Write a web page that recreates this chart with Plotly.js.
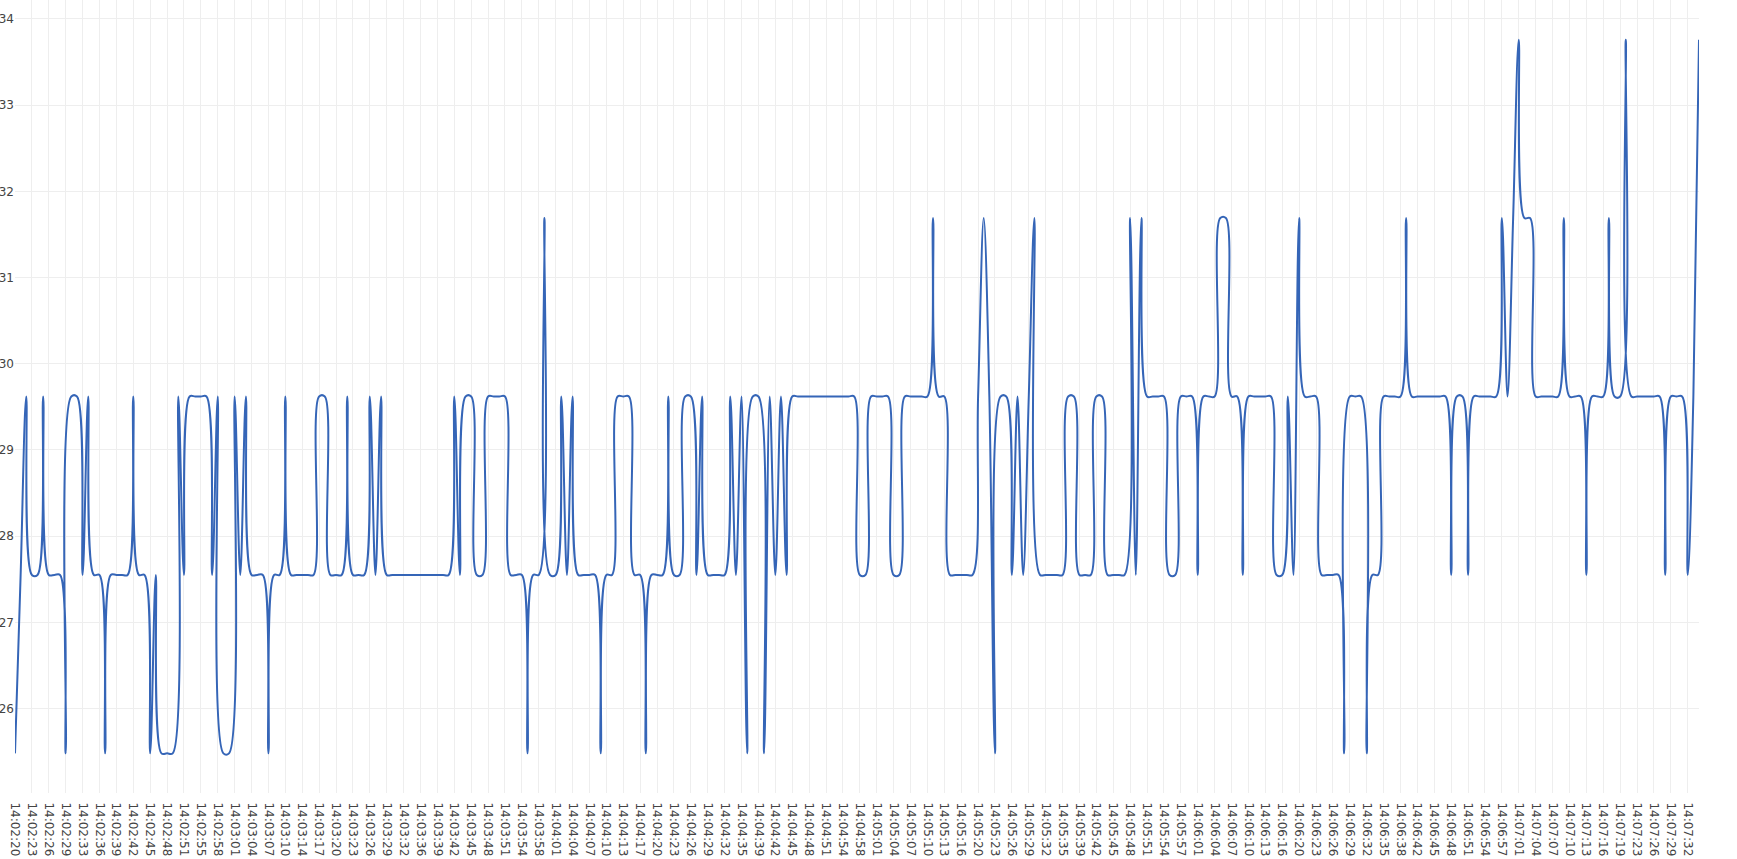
<!DOCTYPE html>
<html>
<head>
<meta charset="utf-8">
<script src="https://cdn.plot.ly/plotly-3.0.1.min.js"></script>
<style>html,body{margin:0;padding:0;background:#fff;}#chart{width:1737px;height:859px;}</style>
</head>
<body>
<div id="chart"></div>
<script>
// Tick labels (one every third sample)
const tickTimes = [
"14:02:20","14:02:23","14:02:26","14:02:29","14:02:33","14:02:36","14:02:39","14:02:42","14:02:45","14:02:48",
"14:02:51","14:02:55","14:02:58","14:03:01","14:03:04","14:03:07","14:03:10","14:03:14","14:03:17","14:03:20",
"14:03:23","14:03:26","14:03:29","14:03:32","14:03:36","14:03:39","14:03:42","14:03:45","14:03:48","14:03:51",
"14:03:54","14:03:58","14:04:01","14:04:04","14:04:07","14:04:10","14:04:13","14:04:17","14:04:20","14:04:23",
"14:04:26","14:04:29","14:04:32","14:04:35","14:04:39","14:04:42","14:04:45","14:04:48","14:04:51","14:04:54",
"14:04:58","14:05:01","14:05:04","14:05:07","14:05:10","14:05:13","14:05:16","14:05:20","14:05:23","14:05:26",
"14:05:29","14:05:32","14:05:35","14:05:39","14:05:42","14:05:45","14:05:48","14:05:51","14:05:54","14:05:57",
"14:06:01","14:06:04","14:06:07","14:06:10","14:06:13","14:06:16","14:06:20","14:06:23","14:06:26","14:06:29",
"14:06:32","14:06:35","14:06:38","14:06:42","14:06:45","14:06:48","14:06:51","14:06:54","14:06:57","14:07:01",
"14:07:04","14:07:07","14:07:10","14:07:13","14:07:16","14:07:19","14:07:23","14:07:26","14:07:29","14:07:32"
];

// Readings, one per sample (300 samples)
const values = [
25.48,27.55,29.62,27.55,27.55,29.62,27.55,27.55,27.55,25.48,
29.62,29.62,27.55,29.62,27.55,27.55,25.48,27.55,27.55,27.55,
27.55,29.62,27.55,27.55,25.48,27.55,25.48,25.48,25.48,29.62,
27.55,29.62,29.62,29.62,29.62,27.55,29.62,25.48,25.48,29.62,
27.55,29.62,27.55,27.55,27.55,25.48,27.55,27.55,29.62,27.55,
27.55,27.55,27.55,27.55,29.62,29.62,27.55,27.55,27.55,29.62,
27.55,27.55,27.55,29.62,27.55,29.62,27.55,27.55,27.55,27.55,
27.55,27.55,27.55,27.55,27.55,27.55,27.55,27.55,29.62,27.55,
29.62,29.62,27.55,27.55,29.62,29.62,29.62,29.62,27.55,27.55,
27.55,25.48,27.55,27.55,31.69,27.55,27.55,29.62,27.55,29.62,
27.55,27.55,27.55,27.55,25.48,27.55,27.55,29.62,29.62,29.62,
27.55,27.55,25.48,27.55,27.55,27.55,29.62,27.55,27.55,29.62,
29.62,27.55,29.62,27.55,27.55,27.55,27.55,29.62,27.55,29.62,
25.48,29.62,29.62,25.48,29.62,27.55,29.62,27.55,29.62,29.62,
29.62,29.62,29.62,29.62,29.62,29.62,29.62,29.62,29.62,29.62,
27.55,27.55,29.62,29.62,29.62,29.62,27.55,27.55,29.62,29.62,
29.62,29.62,29.62,31.69,29.62,29.62,27.55,27.55,27.55,27.55,
27.55,29.62,31.69,29.62,25.48,29.62,29.62,27.55,29.62,27.55,
29.62,31.69,27.55,27.55,27.55,27.55,27.55,29.62,29.62,27.55,
27.55,27.55,29.62,29.62,27.55,27.55,27.55,27.55,31.69,27.55,
31.69,29.62,29.62,29.62,29.62,27.55,27.55,29.62,29.62,29.62,
27.55,29.62,29.62,29.62,31.69,31.69,29.62,29.62,27.55,29.62,
29.62,29.62,29.62,29.62,27.55,27.55,29.62,27.55,31.69,29.62,
29.62,29.62,27.55,27.55,27.55,27.55,25.48,29.62,29.62,29.62,
25.48,27.55,27.55,29.62,29.62,29.62,29.62,31.69,29.62,29.62,
29.62,29.62,29.62,29.62,29.62,27.55,29.62,29.62,27.55,29.62,
29.62,29.62,29.62,29.62,31.69,29.62,31.69,33.76,31.69,31.69,
29.62,29.62,29.62,29.62,29.62,31.69,29.62,29.62,29.62,27.55,
29.62,29.62,29.62,31.69,29.62,29.62,33.76,29.62,29.62,29.62,
29.62,29.62,29.62,27.55,29.62,29.62,29.62,27.55,29.62,33.76
];

// Sample timestamps: each labelled tick plus the two samples that follow it
function addSeconds(hms, n) {
  const p = hms.split(":").map(Number);
  let s = p[0] * 3600 + p[1] * 60 + p[2] + n;
  const h = Math.floor(s / 3600), m = Math.floor((s % 3600) / 60), sec = s % 60;
  const z = v => (v < 10 ? "0" : "") + v;
  return z(h) + ":" + z(m) + ":" + z(sec);
}
const times = [];
tickTimes.forEach(t => { for (let i = 0; i < 3; i++) times.push(addSeconds(t, i)); });

const trace = {
  type: "scatter",
  mode: "lines",
  x: times,
  y: values,
  line: { shape: "spline", color: "#3565b7", width: 2 },
  hoverinfo: "x+y"
};

const font = { family: "Verdana, 'DejaVu Sans', sans-serif", size: 12, color: "#444" };

const layout = {
  width: 1737,
  height: 859,
  margin: { l: 15, r: 38, t: 0, b: 66, pad: 0 },
  paper_bgcolor: "#fff",
  plot_bgcolor: "#fff",
  showlegend: false,
  font: font,
  xaxis: {
    type: "category",
    tickmode: "linear",
    tick0: 0,
    dtick: 3,
    tickangle: 90,
    ticks: "outside",
    ticklen: 6,
    tickcolor: "rgba(0,0,0,0)",
    showgrid: true,
    gridcolor: "#eee",
    zeroline: false,
    showline: false,
    tickfont: font,
    automargin: false
  },
  yaxis: {
    showgrid: true,
    gridcolor: "#eee",
    zeroline: false,
    showline: false,
    dtick: 1,
    tickfont: font,
    automargin: false
  }
};

Plotly.newPlot("chart", [trace], layout, { displayModeBar: false, responsive: false });
</script>
</body>
</html>
